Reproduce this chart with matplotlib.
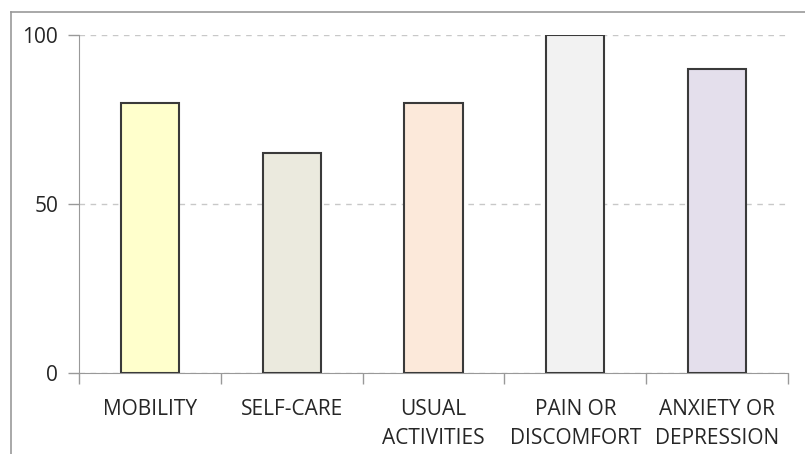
import matplotlib.pyplot as plt
from matplotlib.lines import Line2D

# EQ-5D dimensions and their scores
categories = ["MOBILITY", "SELF-CARE", "USUAL\nACTIVITIES", "PAIN OR\nDISCOMFORT", "ANXIETY OR\nDEPRESSION"]
values = [80, 65, 80, 100, 90]
bar_colors = ["#FFFFCC", "#EBEADE", "#FCE9DA", "#F2F2F2", "#E4DFEC"]

plt.rcParams['font.family'] = ['Open Sans', 'DejaVu Sans']

fig = plt.figure(figsize=(8.05, 4.54), dpi=100)
ax = fig.add_axes([0.0981, 0.1784, 0.8809, 0.7445])

x = list(range(len(categories)))
ax.bar(x, values, width=0.41, color=bar_colors, edgecolor="#3a3a3a", linewidth=1.5, zorder=3)

ax.set_xlim(-0.5, len(categories) - 0.5)
ax.set_ylim(0, 100)
ax.set_yticks([0, 50, 100])
ax.yaxis.grid(True, linestyle=(0, (4, 4)), color="#c8c8c8", linewidth=1.0, zorder=0)

# category boundaries as minor ticks, labels on the major ones
ax.set_xticks(x)
ax.set_xticklabels(categories, fontsize=15, color="#262626", linespacing=1.5)
ax.set_xticks([i - 0.5 for i in range(len(categories) + 1)], minor=True)
ax.tick_params(axis="x", which="major", length=0, pad=19)
ax.tick_params(axis="x", which="minor", length=8, color="#999999", width=1)
ax.tick_params(axis="y", length=8, color="#999999", width=1, pad=7, labelsize=15, labelcolor="#262626")

for side in ["top", "right"]:
    ax.spines[side].set_visible(False)
ax.spines["left"].set_color("#999999")
ax.spines["bottom"].set_color("#999999")

# chart-area border on the left and top
fig.add_artist(Line2D([11 / 805, 11 / 805], [0, 1 - 12 / 454], color="#999999", linewidth=1.2))
fig.add_artist(Line2D([11 / 805, 1], [1 - 12 / 454, 1 - 12 / 454], color="#999999", linewidth=1.2))

fig.savefig("out.png", dpi=100)
